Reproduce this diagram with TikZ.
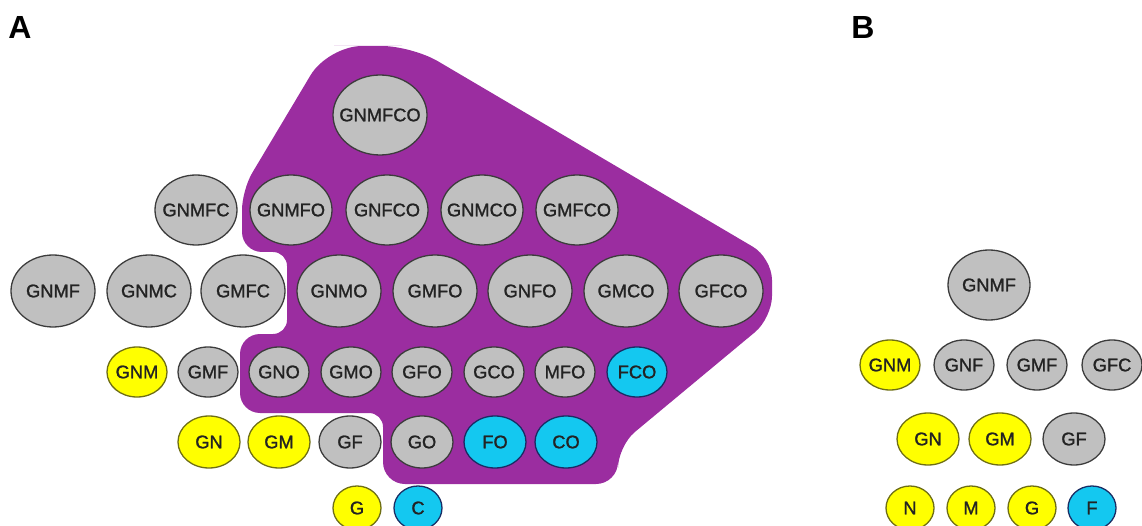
\documentclass[tikz,border=0pt]{standalone}
\usepackage{fontspec}
\setmainfont{Liberation Sans}
\newfontfamily\cellfont[FakeBold=1.2]{Liberation Sans}
\usetikzlibrary{shapes.geometric}
\definecolor{blobpurple}{RGB}{155,45,160}
\definecolor{nodegray}{RGB}{192,192,192}
\definecolor{edgegray}{RGB}{60,60,60}
\definecolor{nodeyellow}{RGB}{255,255,0}
\definecolor{edgeyellow}{RGB}{110,110,20}
\definecolor{nodecyan}{RGB}{20,200,240}
\definecolor{edgecyan}{RGB}{25,45,100}
\definecolor{txtcol}{RGB}{35,35,35}
\tikzset{
  cell/.style={ellipse, draw=edgegray, line width=1.3pt, fill=nodegray, inner sep=0pt,
    label={[font=\cellfont\fontsize{18.3}{20}\selectfont, text=txtcol, inner sep=0pt]center:#1}},
  yel/.style={fill=nodeyellow, draw=edgeyellow},
  cya/.style={fill=nodecyan, draw=edgecyan},
  sz1/.style={minimum width=94pt, minimum height=80pt},
  sz2/.style={minimum width=82pt, minimum height=70pt},
  sz3/.style={minimum width=84pt, minimum height=72pt},
  sz4/.style={minimum width=60pt, minimum height=50pt},
  sz5/.style={minimum width=62pt, minimum height=52pt},
  sz6/.style={minimum width=48pt, minimum height=44pt},
  panel/.style={font=\fontsize{32}{36}\selectfont\bfseries, inner sep=0pt},
}
\begin{document}
\begin{tikzpicture}[x=1pt,y=-1pt]
\useasboundingbox (0,0) rectangle (1142,526);
% purple region
\fill[blobpurple] [rounded corners=30pt] (368,46) -- (412,46)
  [rounded corners=22pt] -- (772,258) -- (772,318) -- (618,446) -- (618,484)
  -- (383,484) [rounded corners=14pt] -- (383,413) [rounded corners=20pt] -- (240,413)
  -- (240,334) [rounded corners=14pt] -- (287,334) -- (287,252)
  [rounded corners=20pt] -- (242,252) -- (242,190) [rounded corners=34pt] -- (328,46) -- cycle;
% panel labels
\node[panel] (lA) at (20,27) {A};
\node[panel] (lB) at (863,27) {B};
% Panel A
\node[cell=GNMFCO, sz1] (a1) at (380,115) {};
\node[cell=GNMFC, sz2] (a2a) at (196,210) {};
\node[cell=GNMFO, sz2] (a2b) at (291,210) {};
\node[cell=GNFCO, sz2] (a2c) at (387,210) {};
\node[cell=GNMCO, sz2] (a2d) at (482,210) {};
\node[cell=GMFCO, sz2] (a2e) at (577,210) {};
\node[cell=GNMF, sz3] (a3a) at (53,291) {};
\node[cell=GNMC, sz3] (a3b) at (149,291) {};
\node[cell=GMFC, sz3] (a3c) at (243,291) {};
\node[cell=GNMO, sz3] (a3d) at (339,291) {};
\node[cell=GMFO, sz3] (a3e) at (435,291) {};
\node[cell=GNFO, sz3] (a3f) at (530,291) {};
\node[cell=GMCO, sz3] (a3g) at (626,291) {};
\node[cell=GFCO, sz3] (a3h) at (721,291) {};
\node[cell=GNM, sz4, yel] (a4a) at (137,372) {};
\node[cell=GMF, sz4] (a4b) at (208,372) {};
\node[cell=GNO, sz4] (a4c) at (279,372) {};
\node[cell=GMO, sz4] (a4d) at (351,372) {};
\node[cell=GFO, sz4] (a4e) at (422,372) {};
\node[cell=GCO, sz4] (a4f) at (494,372) {};
\node[cell=MFO, sz4] (a4g) at (565,372) {};
\node[cell=FCO, sz4, cya] (a4h) at (637,372) {};
\node[cell=GN, sz5, yel] (a5a) at (209,442) {};
\node[cell=GM, sz5, yel] (a5b) at (279,442) {};
\node[cell=GF, sz5] (a5c) at (350,442) {};
\node[cell=GO, sz5] (a5d) at (422,442) {};
\node[cell=FO, sz5, cya] (a5e) at (495,442) {};
\node[cell=CO, sz5, cya] (a5f) at (566,442) {};
\node[cell=G, sz6, yel] (a6a) at (357,508) {};
\node[cell=C, sz6, cya] (a6b) at (418,508) {};
% Panel B
\node[cell=GNMF, sz2] (b1) at (989,285) {};
\node[cell=GNM, sz4, yel] (b2a) at (890,365) {};
\node[cell=GNF, sz4] (b2b) at (964,365) {};
\node[cell=GMF, sz4] (b2c) at (1037,365) {};
\node[cell=GFC, sz4] (b2d) at (1112,365) {};
\node[cell=GN, sz5, yel] (b3a) at (928,439) {};
\node[cell=GM, sz5, yel] (b3b) at (1000,439) {};
\node[cell=GF, sz5] (b3c) at (1074,439) {};
\node[cell=N, sz6, yel] (b4a) at (910,508) {};
\node[cell=M, sz6, yel] (b4b) at (971,508) {};
\node[cell=G, sz6, yel] (b4c) at (1032,508) {};
\node[cell=F, sz6, cya] (b4d) at (1092,508) {};
\end{tikzpicture}
\end{document}
